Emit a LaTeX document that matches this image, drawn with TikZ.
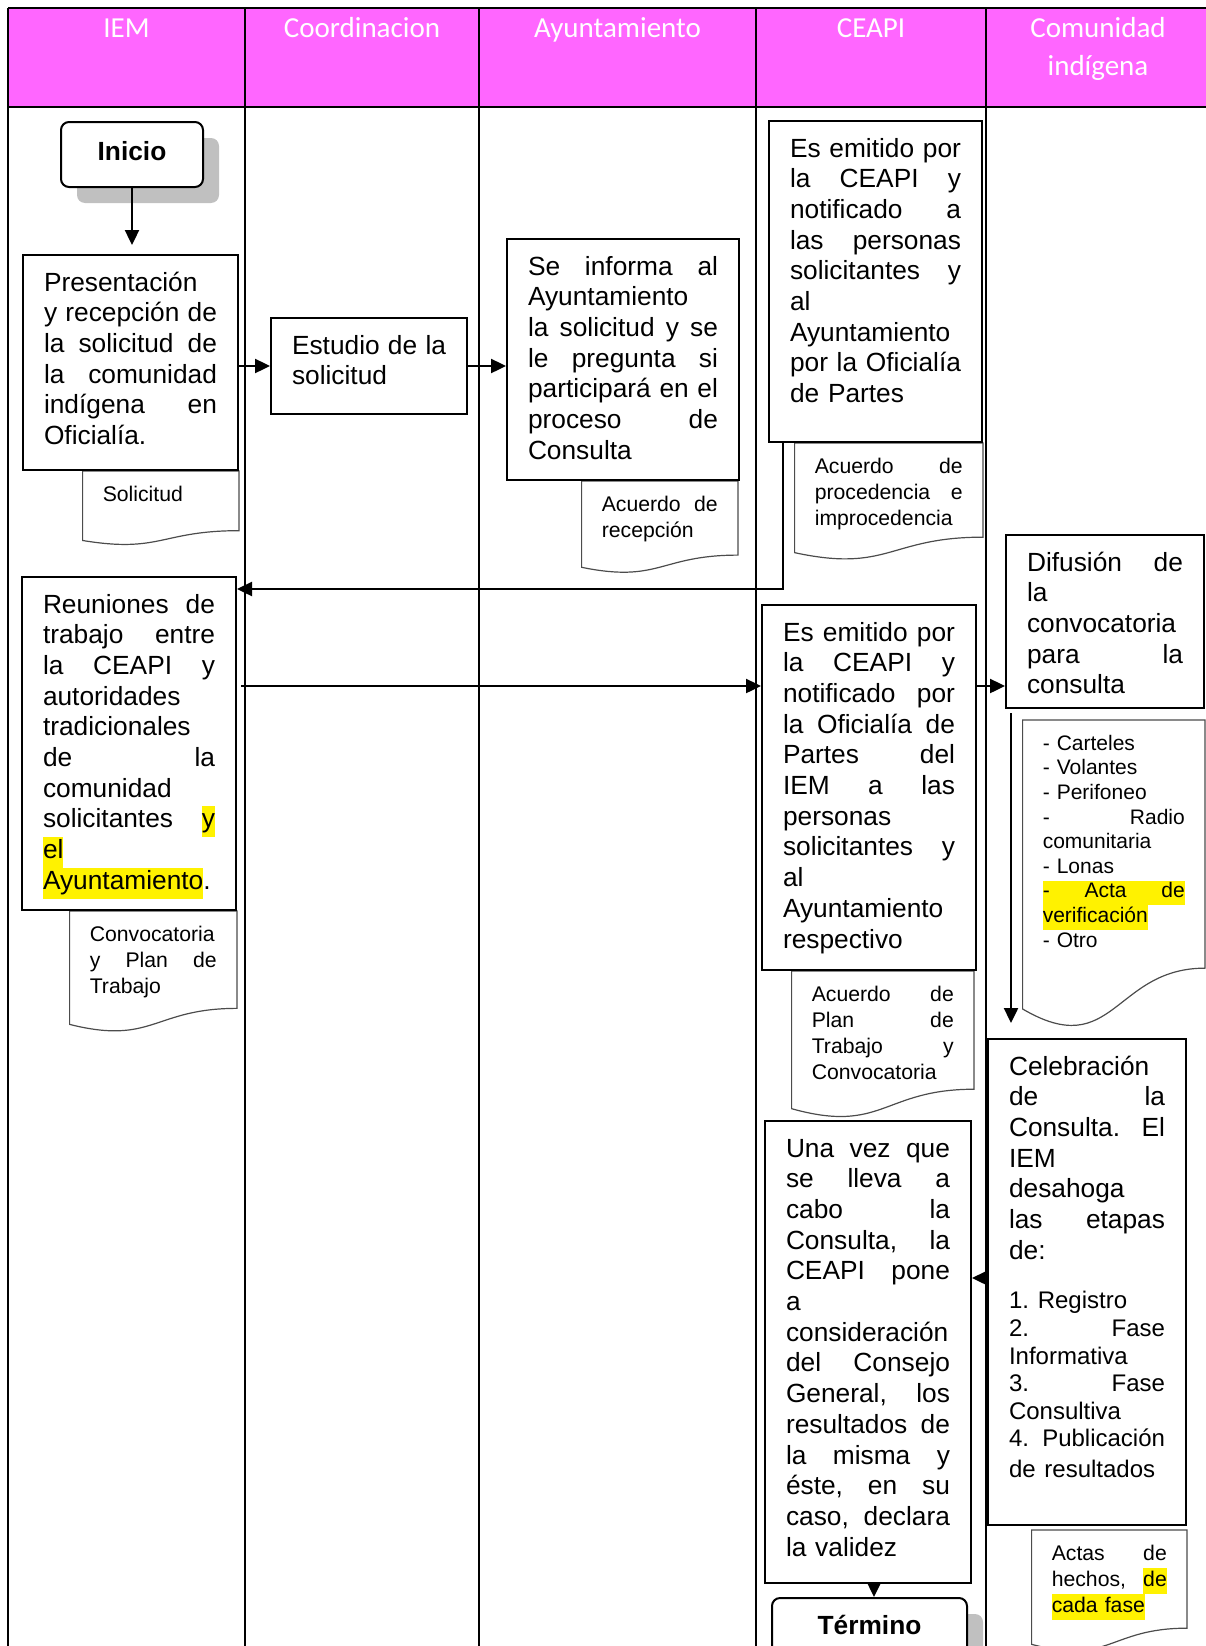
\documentclass[tikz,border=0pt]{standalone}
\usepackage{fontspec}
\setmainfont{Liberation Sans}
\newfontfamily\headfont{Carlito}
\usepackage{xcolor}
\usetikzlibrary{arrows.meta, positioning, calc, shadows, backgrounds}
\definecolor{headmag}{RGB}{255,102,255}
\definecolor{shadowgray}{RGB}{192,192,192}
\frenchspacing
\newcommand{\jline}[1]{\leavevmode\hbox to\linewidth{\spaceskip=0pt\xspaceskip=0pt #1}}
\newcommand{\yhl}[1]{{\fboxsep=0pt\colorbox{yellow}{\strut #1}}}

\begin{document}
\begin{tikzpicture}[
  x=1pt, y=-1pt,
  font=\fontsize{26.3}{30.7}\selectfont,
  laneline/.style={line width=2.2pt},
  lanehead/.style={anchor=north, text width=200pt, align=center, inner sep=0pt, text height=20pt, text=white, font=\headfont\fontsize{29}{37.8}\selectfont},
  box/.style 2 args={draw, line width=2pt, anchor=north west, align=left, inner xsep=21pt, inner ysep=16pt, text height=20pt, text width=#1, text depth=#2},
  doc/.style 2 args={inner xsep=20pt, inner ysep=14pt, align=left, text height=16pt, text width=#1, text depth=#2, font=\fontsize{21.2}{26}\selectfont},
  docline/.style={draw=black!70, line width=1.2pt},
  startstop/.style={draw, line width=2pt, rounded corners=8pt, fill=white, font=\fontsize{26.3}{30.7}\selectfont\bfseries, drop shadow={shadow xshift=16pt, shadow yshift=-16pt, fill=shadowgray, opacity=1}},
  arrow/.style={-{Triangle[length=15pt, width=14pt]}, line width=2.4pt}
]
\useasboundingbox (0,0) rectangle (1206,1646);

% LANES
\fill[headmag] (8,8) rectangle (1212,107);
\draw[laneline] (8,8) -- (1212,8);
\draw[laneline] (8,107) -- (1212,107);
\foreach \x in {8,245,479,756,986}
  \draw[laneline] (\x,8) -- (\x,1652);
\foreach \cx/\nm/\lab in {126.5/hiem/IEM, 362/hcoord/Coordinacion, 617.5/hayun/Ayuntamiento, 871/hceapi/CEAPI, 1098/hcom/{Comunidad\\indígena}}
  \node[lanehead] (\nm) at (\cx,17) {\lab};

% IEM
\node[startstop, minimum width=142pt, minimum height=65pt, text height=20pt, text depth=9pt] (ini) at (132,154.5) {Inicio};
\node[box={173pt}{163pt}] (pres) at (22,254)
{Presentación\\
\jline{y recepción de}\\
\jline{la solicitud de}\\
\jline{la comunidad}\\
\jline{indígena en}\\
Oficialía.};
\node[box={172pt}{281pt}] (reu) at (21,576)
{\jline{Reuniones de}\\
\jline{trabajo entre}\\
\jline{la CEAPI y}\\
autoridades\\
tradicionales\\
\jline{de la}\\
comunidad\\
\jline{solicitantes \yhl{y}}\\
\yhl{el}\\
\yhl{Ayuntamiento}.};

% COORDINACION + AYUNTAMIENTO
\node[box={154pt}{44pt}] (est) at (270,317)
{\jline{Estudio de la}\\
solicitud};
\node[box={190pt}{189pt}] (inf) at (506,238)
{\jline{Se informa al}\\
Ayuntamiento\\
\jline{la solicitud y se}\\
\jline{le pregunta si}\\
\jline{participará en el}\\
\jline{proceso de}\\
Consulta};

% CEAPI
\node[box={171pt}{269pt}] (emit) at (768,120)
{\jline{Es emitido por}\\
\jline{la CEAPI y}\\
\jline{notificado a}\\
\jline{las personas}\\
\jline{solicitantes y}\\
al\\
Ayuntamiento\\
\jline{por la Oficialía}\\
de Partes};
\node[box={172pt}{313pt}] (notif) at (761,604)
{\jline{Es emitido por}\\
\jline{la CEAPI y}\\
\jline{notificado por}\\
\jline{la Oficialía de}\\
\jline{Partes del}\\
\jline{IEM a las}\\
personas\\
\jline{solicitantes y}\\
al\\
Ayuntamiento\\
respectivo};
\node[box={164pt}{410pt}] (una) at (764,1120)
{\jline{Una vez que}\\
\jline{se lleva a}\\
\jline{cabo la}\\
\jline{Consulta, la}\\
\jline{CEAPI pone}\\
a\\
consideración\\
\jline{del Consejo}\\
\jline{General, los}\\
\jline{resultados de}\\
\jline{la misma y}\\
\jline{éste, en su}\\
\jline{caso, declara}\\
la validez};
\node[startstop, minimum width=195pt, anchor=north, inner ysep=16pt, text height=20pt, text depth=40pt] (term) at (869.5,1597) {Término};

% COMUNIDAD
\node[box={156pt}{121pt}] (dif) at (1005,534)
{\jline{Difusión de}\\
la\\
convocatoria\\
\jline{para la}\\
consulta};
\node[box={156pt}{434pt}] (cel) at (987,1038)
{Celebración\\
\jline{de la}\\
\jline{Consulta. El}\\
IEM\\
desahoga\\
\jline{las etapas}\\
de:\\[22pt]
\fontsize{24}{27.6}\selectfont 1. Registro\\
\jline{2. Fase}\\
Informativa\\
\jline{3. Fase}\\
Consultiva\\
\jline{4. Publicación}\\
de resultados};

% DOCUMENTS
\node[doc={116pt}{30pt}, below left=0pt and 0pt of pres.south east] (sol) {Solicitud};
\node[doc={116pt}{48pt}, below left=0pt and 2pt of inf.south east] (rec)
{\jline{Acuerdo de}\\ recepción};
\node[doc={148pt}{73pt}, below left=0pt and 0pt of emit.south east] (proc)
{\jline{Acuerdo de}\\ \jline{procedencia e}\\ improcedencia};
\node[doc={127pt}{77pt}, below left=0pt and 0pt of reu.south east] (conv)
{Convocatoria\\ \jline{y Plan de}\\ Trabajo};
\node[doc={142pt}{103pt}, below left=0pt and 3pt of notif.south east] (plan)
{\jline{Acuerdo de}\\ \jline{Plan de}\\ \jline{Trabajo y}\\ Convocatoria};
\node[doc={142pt}{265pt}, font=\fontsize{21}{24.6}\selectfont, below left=11pt and 0pt of dif.south east] (medios)
{- Carteles\\
- Volantes\\
- Perifoneo\\
\jline{- Radio}\\
comunitaria\\
- Lonas\\
\yhl{\jline{- Acta de}}\\
\yhl{verificación}\\
- Otro};
\node[doc={115pt}{78pt}, below left=4pt and 0pt of cel.south east] (actas)
{\jline{Actas de}\\ \jline{hechos, \yhl{de}}\\ \yhl{cada fase}};

\begin{scope}[on background layer]
\foreach \d in {sol,rec,proc,conv,plan,medios,actas}
  \draw[docline] (\d.north west) -- (\d.north east)
    -- ($(\d.north east)!0.802!(\d.south east)$)
    .. controls ($(\d.north)!0.802!(\d.south)$) and ($(\d.north)!1.107!(\d.south)$)
    .. ($(\d.north west)!0.934!(\d.south west)$) -- cycle;
\end{scope}

% FLOW
\draw[arrow, shorten >=9pt] (ini.south) -- (ini.south |- pres.north);
\draw[arrow] (pres.east |- est.west) -- (est.west);
\draw[arrow] (est.east) -- (est.east -| inf.west);
\draw[arrow] ([xshift=15pt]emit.south west) |- ([yshift=-13pt]reu.north east);
\draw[arrow] ([xshift=4pt, yshift=-110pt]reu.north east) -- ([yshift=-82pt]notif.north west);
\draw[arrow] ([yshift=-82pt]notif.north east) -- ([yshift=-82pt]notif.north east -| dif.west);
\draw[arrow] ([xshift=6pt, yshift=-4pt]dif.south west) -- ([xshift=24pt, yshift=15pt]cel.north west);
\draw[arrow] ([yshift=4pt]cel.west) -- ([yshift=4pt]cel.west -| una.east);
\draw[arrow] ([xshift=6pt]una.south) -- ([xshift=6pt]una.south |- term.north);

\end{tikzpicture}
\end{document}
